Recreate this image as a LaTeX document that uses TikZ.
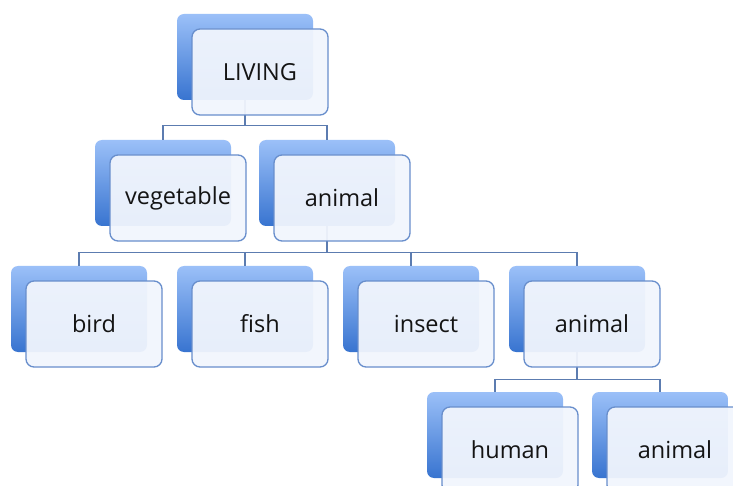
\documentclass[tikz,border=0pt]{standalone}
\usepackage{fontspec}
\setmainfont{Open Sans}
\definecolor{btop}{RGB}{155,192,248}
\definecolor{bbot}{RGB}{56,116,208}
\definecolor{fborder}{RGB}{104,142,204}
\definecolor{ffill}{RGB}{242,246,253}
\definecolor{connc}{RGB}{92,124,176}
\definecolor{txt}{RGB}{20,20,20}
\begin{document}
\begin{tikzpicture}[x=1pt,y=-1pt,
  backbox/.style={rectangle,rounded corners=7pt,minimum width=136pt,minimum height=86pt,
    top color=btop,bottom color=bbot,draw=none,inner sep=0pt},
  frontbox/.style={rectangle,rounded corners=8pt,minimum width=136pt,minimum height=86pt,
    draw=fborder,line width=1.3pt,fill=ffill,fill opacity=0.94,text opacity=1,
    text=txt,font=\fontsize{23.5}{28}\selectfont,inner sep=0pt},
  conn/.style={draw=connc,line width=1.3pt}]
\useasboundingbox (0,0) rectangle (733,486);
\clip (0,0) rectangle (733,486);
\fill[white] (0,0) rectangle (733,486);
% back boxes
\node[backbox] (b1) at (245,57) {};
\node[backbox] (b2) at (163,183) {};
\node[backbox] (b3) at (327,183) {};
\node[backbox] (b4) at (79,309) {};
\node[backbox] (b5) at (245,309) {};
\node[backbox] (b6) at (411,309) {};
\node[backbox] (b7) at (577,309) {};
\node[backbox] (b8) at (495,435) {};
\node[backbox] (b9) at (660,435) {};
% connectors
\draw[conn] (b1.south) -- ++(0,25) -| (b2.north);
\draw[conn] (b1.south) -- ++(0,25) -| (b3.north);
\draw[conn] (b3.south) -- ++(0,26) -| (b4.north);
\draw[conn] (b3.south) -- ++(0,26) -| (b5.north);
\draw[conn] (b3.south) -- ++(0,26) -| (b6.north);
\draw[conn] (b3.south) -- ++(0,26) -| (b7.north);
\draw[conn] (b7.south) -- ++(0,27) -| (b8.north);
\draw[conn] (b7.south) -- ++(0,27) -| (b9.north);
% front boxes
\node[frontbox] (f1) at (260,72) {LIVING};
\node[frontbox] (f2) at (178,198) {vegetable};
\node[frontbox] (f3) at (342,198) {animal};
\node[frontbox] (f4) at (94,324) {bird};
\node[frontbox] (f5) at (260,324) {fish};
\node[frontbox] (f6) at (426,324) {insect};
\node[frontbox] (f7) at (592,324) {animal};
\node[frontbox] (f8) at (510,450) {human};
\node[frontbox] (f9) at (675,450) {animal};
\end{tikzpicture}
\end{document}
